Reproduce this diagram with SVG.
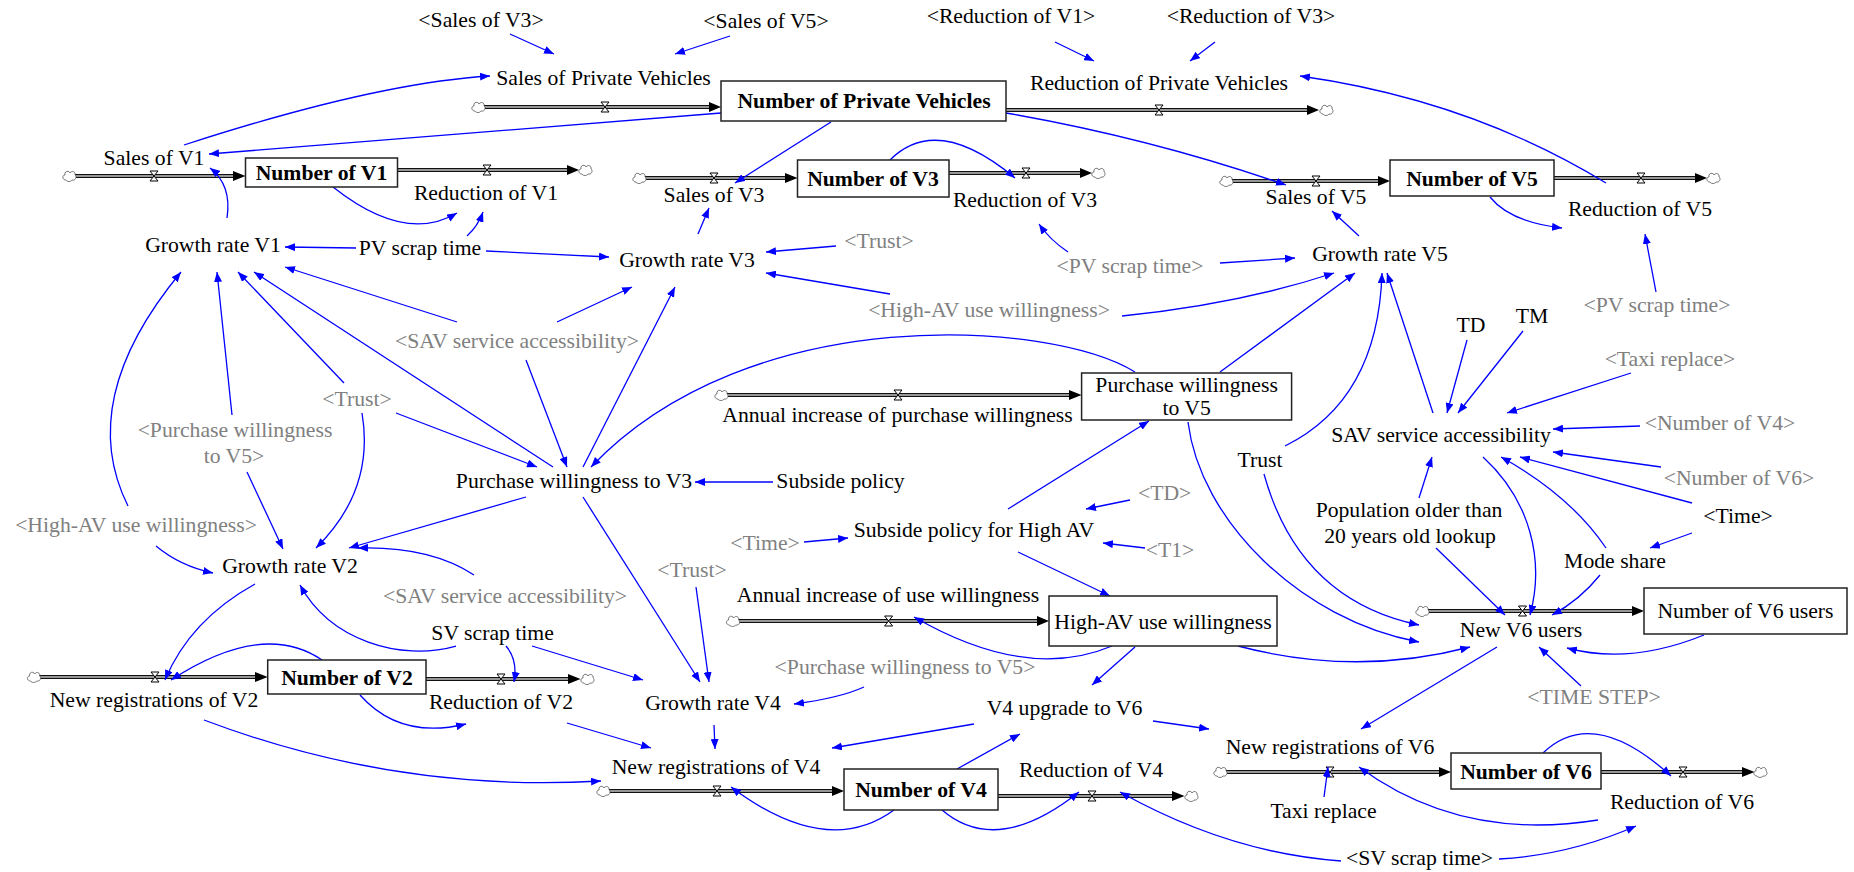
<svg xmlns="http://www.w3.org/2000/svg" xmlns:xlink="http://www.w3.org/1999/xlink" width="1854" height="872" viewBox="0 0 1854 872">
<style>
text{font-family:"Liberation Serif","Times New Roman",serif;font-size:21.7px;fill:#000;text-anchor:middle}
.g{fill:#808080}
.b{font-weight:bold}
.stock{fill:#fff;stroke:#222;stroke-width:1.5}
.lk{fill:none;stroke:#0000ff;stroke-width:1.3;marker-end:url(#ah)}
.po{fill:none;stroke:#111;stroke-width:4.2}
.pi{fill:none;stroke:#c4c4c4;stroke-width:1.4}
.fh{fill:#000}
</style>
<defs>
<marker id="ah" markerUnits="userSpaceOnUse" markerWidth="10" markerHeight="8" viewBox="0 0 10 8" refX="10" refY="4" orient="auto"><path d="M0,0 L10,4 L0,8 Z" fill="#0000ff"/></marker>
<path id="valve" d="M-4,-5 H4 L-4,5 H4 Z" fill="#fff" stroke="#000" stroke-width="1"/>
<path id="cloud" d="M-3,4 C-7,4 -7,-1 -4,-1 C-5,-5 0,-6 1,-3 C3,-6 7,-4 6,-1 C8,0 7,5 3,4 C2,6 -2,6 -3,4 Z" fill="#fff" stroke="#555" stroke-width="0.8"/>
</defs>
<rect width="1854" height="872" fill="#fff"/>

<g id="flows">
<path class="po" d="M484,107 H709"/><path class="pi" d="M484,107 H709"/><path class="fh" d="M709,102 L721,107 L709,112 Z"/><use xlink:href="#valve" x="605" y="107"/><use xlink:href="#cloud" x="478" y="107"/>
<path class="po" d="M1006,110 H1307"/><path class="pi" d="M1006,110 H1307"/><path class="fh" d="M1307,105 L1319,110 L1307,115 Z"/><use xlink:href="#valve" x="1159" y="110"/><use xlink:href="#cloud" x="1326" y="110"/>
<path class="po" d="M75,176 H233"/><path class="pi" d="M75,176 H233"/><path class="fh" d="M233,171 L245.5,176 L233,181 Z"/><use xlink:href="#valve" x="154" y="176"/><use xlink:href="#cloud" x="69" y="176"/>
<path class="po" d="M397,170 H567"/><path class="pi" d="M397,170 H567"/><path class="fh" d="M567,165 L579,170 L567,175 Z"/><use xlink:href="#valve" x="487" y="170"/><use xlink:href="#cloud" x="585" y="170"/>
<path class="po" d="M645,178 H785"/><path class="pi" d="M645,178 H785"/><path class="fh" d="M785,173 L797.5,178 L785,183 Z"/><use xlink:href="#valve" x="714" y="178"/><use xlink:href="#cloud" x="639" y="178"/>
<path class="po" d="M949,173 H1080"/><path class="pi" d="M949,173 H1080"/><path class="fh" d="M1080,168 L1092,173 L1080,178 Z"/><use xlink:href="#valve" x="1026" y="173"/><use xlink:href="#cloud" x="1098" y="173"/>
<path class="po" d="M1232,181 H1378"/><path class="pi" d="M1232,181 H1378"/><path class="fh" d="M1378,176 L1390,181 L1378,186 Z"/><use xlink:href="#valve" x="1316" y="181"/><use xlink:href="#cloud" x="1226" y="181"/>
<path class="po" d="M1554,178 H1695"/><path class="pi" d="M1554,178 H1695"/><path class="fh" d="M1695,173 L1707,178 L1695,183 Z"/><use xlink:href="#valve" x="1641" y="178"/><use xlink:href="#cloud" x="1713" y="178"/>
<path class="po" d="M727,395 H1069"/><path class="pi" d="M727,395 H1069"/><path class="fh" d="M1069,390 L1081.6,395 L1069,400 Z"/><use xlink:href="#valve" x="898" y="395"/><use xlink:href="#cloud" x="721" y="395"/>
<path class="po" d="M738,621 H1037"/><path class="pi" d="M738,621 H1037"/><path class="fh" d="M1037,616 L1049,621 L1037,626 Z"/><use xlink:href="#valve" x="888.6" y="621"/><use xlink:href="#cloud" x="732.6" y="621"/>
<path class="po" d="M39,677 H255"/><path class="pi" d="M39,677 H255"/><path class="fh" d="M255,672 L267.7,677 L255,682 Z"/><use xlink:href="#valve" x="155" y="677"/><use xlink:href="#cloud" x="33.6" y="677"/>
<path class="po" d="M426,679 H568"/><path class="pi" d="M426,679 H568"/><path class="fh" d="M568,674 L580.5,679 L568,684 Z"/><use xlink:href="#valve" x="501" y="679"/><use xlink:href="#cloud" x="587" y="679"/>
<path class="po" d="M609,791 H832"/><path class="pi" d="M609,791 H832"/><path class="fh" d="M832,786 L844,791 L832,796 Z"/><use xlink:href="#valve" x="717" y="791"/><use xlink:href="#cloud" x="603" y="791"/>
<path class="po" d="M998,796 H1172"/><path class="pi" d="M998,796 H1172"/><path class="fh" d="M1172,791 L1184.5,796 L1172,801 Z"/><use xlink:href="#valve" x="1092" y="796"/><use xlink:href="#cloud" x="1191" y="796"/>
<path class="po" d="M1428,611 H1632"/><path class="pi" d="M1428,611 H1632"/><path class="fh" d="M1632,606 L1644,611 L1632,616 Z"/><use xlink:href="#valve" x="1522.5" y="611"/><use xlink:href="#cloud" x="1422" y="611"/>
<path class="po" d="M1226,772 H1439"/><path class="pi" d="M1226,772 H1439"/><path class="fh" d="M1439,767 L1451,772 L1439,777 Z"/><use xlink:href="#valve" x="1330" y="772"/><use xlink:href="#cloud" x="1220" y="772"/>
<path class="po" d="M1601,772 H1742"/><path class="pi" d="M1601,772 H1742"/><path class="fh" d="M1742,767 L1754.6,772 L1742,777 Z"/><use xlink:href="#valve" x="1683" y="772"/><use xlink:href="#cloud" x="1760" y="772"/>
</g>

<g id="links">
<path class="lk" d="M510,34 L554,54"/>
<path class="lk" d="M730,36 L675,54"/>
<path class="lk" d="M1055,42 L1094,61"/>
<path class="lk" d="M1215,42 L1190,61"/>
<path class="lk" d="M184,145 Q375,83 490,76"/>
<path class="lk" d="M721,113 L209,154"/>
<path class="lk" d="M831,122 L735,183"/>
<path class="lk" d="M1006,113 Q1150,138 1286,185"/>
<path class="lk" d="M1606,183 Q1470,100 1300,76"/>
<path class="lk" d="M333,187 Q405,244 457,213"/>
<path class="lk" d="M467,236 Q478,226 483,212"/>
<path class="lk" d="M227,218 Q232,185 210,168"/>
<path class="lk" d="M356,248 L285,247"/>
<path class="lk" d="M486,251 L609,257"/>
<path class="lk" d="M890,160 Q937,113 1015,178"/>
<path class="lk" d="M698,234 L709,208"/>
<path class="lk" d="M836,246 L766,252"/>
<path class="lk" d="M890,294 L766,273"/>
<path class="lk" d="M1068,252 Q1050,240 1039,224"/>
<path class="lk" d="M1220,263 L1295,258"/>
<path class="lk" d="M1490,197 Q1510,222 1562,228"/>
<path class="lk" d="M1359,236 L1332,211"/>
<path class="lk" d="M1656,292 L1645,234"/>
<path class="lk" d="M1122,316 Q1240,304 1334,273"/>
<path class="lk" d="M1220,372 L1355,273"/>
<path class="lk" d="M1285,446 Q1378,400 1382,273"/>
<path class="lk" d="M1433,413 L1387,273"/>
<path class="lk" d="M1135,372 C1050,320 750,300 591,467"/>
<path class="lk" d="M457,322 L285,267"/>
<path class="lk" d="M557,322 L632,287"/>
<path class="lk" d="M526,360 L567,467"/>
<path class="lk" d="M553,467 L254,272"/>
<path class="lk" d="M583,467 L675,287"/>
<path class="lk" d="M344,383 L238,272"/>
<path class="lk" d="M232,415 L217,272"/>
<path class="lk" d="M128,506 Q75,400 181,272"/>
<path class="lk" d="M396,413 L537,467"/>
<path class="lk" d="M362,413 Q375,490 316,548"/>
<path class="lk" d="M247,472 L283,549"/>
<path class="lk" d="M156,546 Q180,566 213,573"/>
<path class="lk" d="M526,497 L349,548"/>
<path class="lk" d="M474,575 Q430,546 358,548"/>
<path class="lk" d="M773,482 L695,482"/>
<path class="lk" d="M1130,500 L1086,509"/>
<path class="lk" d="M1145,548 L1103,543"/>
<path class="lk" d="M804,542 L848,538"/>
<path class="lk" d="M1008,509 L1149,421"/>
<path class="lk" d="M1018,552 L1110,596"/>
<path class="lk" d="M1112,646 Q1027,682 914,617"/>
<path class="lk" d="M1135,647 L1092,685"/>
<path class="lk" d="M255,584 Q190,620 165,680"/>
<path class="lk" d="M322,660 Q263,620 171,680"/>
<path class="lk" d="M456,646 C400,662 330,640 300,585"/>
<path class="lk" d="M506,646 Q518,660 514,682"/>
<path class="lk" d="M532,646 L643,680"/>
<path class="lk" d="M360,695 Q400,740 466,724"/>
<path class="lk" d="M204,720 Q397,793 601,781"/>
<path class="lk" d="M567,723 L651,748"/>
<path class="lk" d="M696,587 L709,682"/>
<path class="lk" d="M583,497 L700,682"/>
<path class="lk" d="M864,687 Q840,698 794,704"/>
<path class="lk" d="M714,725 L715,749"/>
<path class="lk" d="M974,724 L832,748"/>
<path class="lk" d="M1153,721 L1209,729"/>
<path class="lk" d="M957,769 L1020,734"/>
<path class="lk" d="M894,810 Q827,859 731,787"/>
<path class="lk" d="M942,810 Q997,857 1079,792"/>
<path class="lk" d="M1341,861 Q1229,853 1120,792"/>
<path class="lk" d="M1499,859 Q1570,855 1636,826"/>
<path class="lk" d="M1188,422 C1200,520 1300,620 1419,642"/>
<path class="lk" d="M1264,474 Q1299,600 1419,625"/>
<path class="lk" d="M1238,646 Q1356,677 1470,647"/>
<path class="lk" d="M1483,457 C1530,500 1545,560 1530,615"/>
<path class="lk" d="M1436,548 L1505,615"/>
<path class="lk" d="M1600,575 Q1580,600 1552,615"/>
<path class="lk" d="M1704,635 Q1630,665 1567,648"/>
<path class="lk" d="M1581,686 L1539,647"/>
<path class="lk" d="M1497,647 L1361,729"/>
<path class="lk" d="M1543,753 Q1593,705 1671,776"/>
<path class="lk" d="M1324,797 L1328,767"/>
<path class="lk" d="M1598,820 Q1461,842 1359,767"/>
<path class="lk" d="M1467,340 L1447,413"/>
<path class="lk" d="M1523,331 L1458,413"/>
<path class="lk" d="M1631,373 L1507,413"/>
<path class="lk" d="M1640,426 L1553,429"/>
<path class="lk" d="M1661,467 L1553,452"/>
<path class="lk" d="M1692,503 L1520,457"/>
<path class="lk" d="M1606,548 Q1570,495 1501,457"/>
<path class="lk" d="M1419,498 L1432,457"/>
<path class="lk" d="M1692,533 L1650,548"/>
<path class="lk" d="M1090,399 L1084,403"/>
</g>

<g id="n-npv"><rect class="stock" x="721" y="81" width="285" height="40"/><text class="b" x="864" y="108">Number of Private Vehicles</text></g>
<g id="n-nv1"><rect class="stock" x="245.5" y="158" width="152" height="29"/><text class="b" x="321.5" y="180">Number of V1</text></g>
<g id="n-nv3"><rect class="stock" x="797.5" y="160" width="151.5" height="37"/><text class="b" x="873" y="186">Number of V3</text></g>
<g id="n-nv5"><rect class="stock" x="1390" y="160" width="164" height="36"/><text class="b" x="1472" y="186">Number of V5</text></g>
<g id="n-pw5"><rect class="stock" x="1081.6" y="373" width="210" height="47"/><text x="1186.6" y="392">Purchase willingness</text><text x="1186.6" y="415">to V5</text></g>
<g id="n-hav"><rect class="stock" x="1049" y="596" width="228" height="50"/><text x="1163" y="629">High-AV use willingness</text></g>
<g id="n-nv2"><rect class="stock" x="267.7" y="660" width="158.3" height="34"/><text class="b" x="347" y="685">Number of V2</text></g>
<g id="n-nv4"><rect class="stock" x="844" y="769" width="154" height="41"/><text class="b" x="921" y="797">Number of V4</text></g>
<g id="n-nv6u"><rect class="stock" x="1644" y="588" width="203" height="46"/><text x="1745.5" y="618">Number of V6 users</text></g>
<g id="n-nv6"><rect class="stock" x="1451" y="753" width="150" height="36"/><text class="b" x="1526" y="779">Number of V6</text></g>

<g id="n-spv"><text x="603.5" y="85">Sales of Private Vehicles</text></g>
<g id="n-rpv"><text x="1159" y="90">Reduction of Private Vehicles</text></g>
<g id="n-sv1"><text x="154" y="165">Sales of V1</text></g>
<g id="n-rv1"><text x="486" y="200">Reduction of V1</text></g>
<g id="n-grv1"><text x="213" y="252">Growth rate V1</text></g>
<g id="n-pvst"><text x="420" y="255">PV scrap time</text></g>
<g id="n-sv3"><text x="714" y="202">Sales of V3</text></g>
<g id="n-rv3"><text x="1025" y="207">Reduction of V3</text></g>
<g id="n-grv3"><text x="687" y="267">Growth rate V3</text></g>
<g id="n-sv5"><text x="1316" y="204">Sales of V5</text></g>
<g id="n-rv5"><text x="1640" y="216">Reduction of V5</text></g>
<g id="n-grv5"><text x="1380" y="261">Growth rate V5</text></g>
<g id="n-aipw"><text x="897.5" y="422">Annual increase of purchase willingness</text></g>
<g id="n-pw3"><text x="574" y="488">Purchase willingness to V3</text></g>
<g id="n-sp"><text x="840.5" y="488">Subside policy</text></g>
<g id="n-sphav"><text x="974" y="537">Subside policy for High AV</text></g>
<g id="n-td"><text x="1471" y="332">TD</text></g>
<g id="n-tm"><text x="1532" y="323">TM</text></g>
<g id="n-sav"><text x="1441" y="442">SAV service accessibility</text></g>
<g id="n-trust"><text x="1260" y="467">Trust</text></g>
<g id="n-pop"><text x="1409" y="517">Population older than</text><text x="1410" y="543">20 years old lookup</text></g>
<g id="n-ms"><text x="1615" y="568">Mode share</text></g>
<g id="n-time"><text x="1738" y="523">&lt;Time&gt;</text></g>
<g id="n-grv2"><text x="290" y="573">Growth rate V2</text></g>
<g id="n-svst"><text x="492.6" y="640">SV scrap time</text></g>
<g id="n-nrv2"><text x="154" y="707">New registrations of V2</text></g>
<g id="n-rv2"><text x="501" y="709">Reduction of V2</text></g>
<g id="n-aiuw"><text x="888" y="602">Annual increase of use willingness</text></g>
<g id="n-grv4"><text x="713" y="710">Growth rate V4</text></g>
<g id="n-v4up"><text x="1064.5" y="715">V4 upgrade to V6</text></g>
<g id="n-nrv4"><text x="716" y="774">New registrations of V4</text></g>
<g id="n-rv4"><text x="1091" y="777">Reduction of V4</text></g>
<g id="n-nv6users"><text x="1521" y="637">New V6 users</text></g>
<g id="n-nrv6"><text x="1330" y="754">New registrations of V6</text></g>
<g id="n-taxi"><text x="1323.5" y="818">Taxi replace</text></g>
<g id="n-rv6"><text x="1682" y="809">Reduction of V6</text></g>
<g id="n-svst2"><text x="1419.5" y="865">&lt;SV scrap time&gt;</text></g>
<g id="n-ssv3"><text x="481" y="27">&lt;Sales of V3&gt;</text></g>
<g id="n-ssv5"><text x="766" y="28">&lt;Sales of V5&gt;</text></g>
<g id="n-srv1"><text x="1011" y="23">&lt;Reduction of V1&gt;</text></g>
<g id="n-srv3"><text x="1251" y="23">&lt;Reduction of V3&gt;</text></g>

<g id="n-s-trust1"><text class="g" x="879" y="248">&lt;Trust&gt;</text></g>
<g id="n-s-pvst1"><text class="g" x="1130" y="273">&lt;PV scrap time&gt;</text></g>
<g id="n-s-hav1"><text class="g" x="989" y="317">&lt;High-AV use willingness&gt;</text></g>
<g id="n-s-sav1"><text class="g" x="517" y="348">&lt;SAV service accessibility&gt;</text></g>
<g id="n-s-trust2"><text class="g" x="357" y="406">&lt;Trust&gt;</text></g>
<g id="n-s-pw5a"><text class="g" x="235" y="437">&lt;Purchase willingness</text><text class="g" x="234" y="463">to V5&gt;</text></g>
<g id="n-s-hav2"><text class="g" x="136" y="532">&lt;High-AV use willingness&gt;</text></g>
<g id="n-s-td"><text class="g" x="1164.6" y="500">&lt;TD&gt;</text></g>
<g id="n-s-t1"><text class="g" x="1170" y="557">&lt;T1&gt;</text></g>
<g id="n-s-time"><text class="g" x="765" y="550">&lt;Time&gt;</text></g>
<g id="n-s-trust3"><text class="g" x="692" y="577">&lt;Trust&gt;</text></g>
<g id="n-s-sav2"><text class="g" x="505" y="603">&lt;SAV service accessibility&gt;</text></g>
<g id="n-s-pw5b"><text class="g" x="905" y="674">&lt;Purchase willingness to V5&gt;</text></g>
<g id="n-s-pvst2"><text class="g" x="1657" y="312">&lt;PV scrap time&gt;</text></g>
<g id="n-s-taxi"><text class="g" x="1670" y="366">&lt;Taxi replace&gt;</text></g>
<g id="n-s-nv4"><text class="g" x="1720" y="430">&lt;Number of V4&gt;</text></g>
<g id="n-s-nv6"><text class="g" x="1739" y="485">&lt;Number of V6&gt;</text></g>
<g id="n-s-ts"><text class="g" x="1594" y="704">&lt;TIME STEP&gt;</text></g>
</svg>
